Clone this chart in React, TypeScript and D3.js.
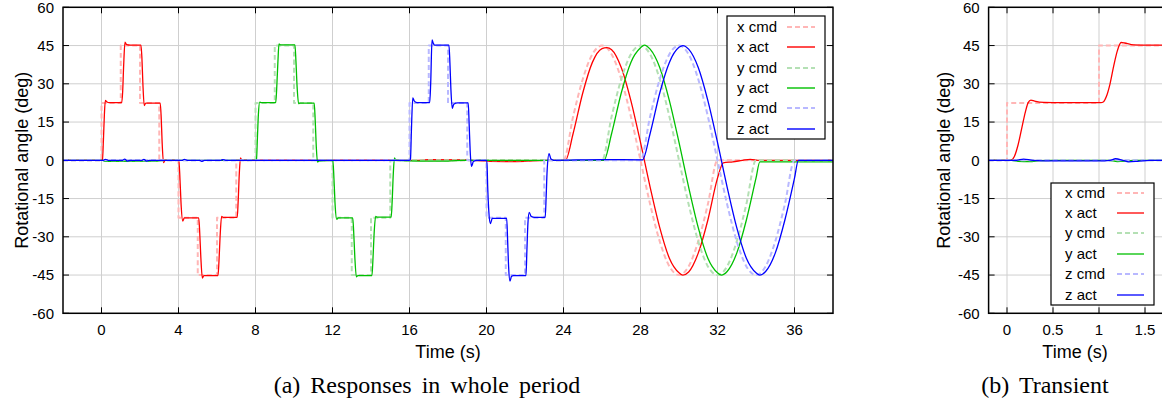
import React, { useEffect, useRef } from 'react';
import * as d3 from 'd3';

type Pt = [number, number];

// ---- data ----
const angleTicks = [-60, -45, -30, -15, 0, 15, 30, 45, 60];
const wholeTimeTicks = [0, 4, 8, 12, 16, 20, 24, 28, 32, 36];
const transientTimeTicks = [0, 0.5, 1, 1.5];
const seriesNames = ['x cmd', 'x act', 'y cmd', 'y act', 'z cmd', 'z act'];

const wholeXCmd: Pt[] = [[-2, 0], [0, 0], [0, 22.5], [1, 22.5], [1, 45], [2, 45], [2, 22.5], [3, 22.5], [3, 0], [4, 0], [4, -22.5], [5, -22.5], [5, -45], [6, -45], [6, -22.5], [7, -22.5], [7, 0], [24, 0], [24.5, 17.2], [25, 31.8], [25.5, 41.6], [26, 45], [26.5, 41.6], [27, 31.8], [27.5, 17.2], [28, 0], [28.5, -17.2], [29, -31.8], [29.5, -41.6], [30, -45], [30.5, -41.6], [31, -31.8], [31.5, -17.2], [32, 0], [38, 0]];
const wholeXAct: Pt[] = [[-2, 0], [0, 0], [0.05, 0.2], [0.1, 8], [0.15, 18], [0.2, 23.5], [0.27, 23], [0.4, 22.6], [1.05, 22.6], [1.1, 27], [1.15, 37], [1.22, 46.3], [1.3, 45.4], [1.5, 45.2], [2.05, 45.2], [2.1, 40], [2.15, 30], [2.22, 21.5], [2.3, 22.4], [3.05, 22.4], [3.1, 17], [3.15, 7], [3.22, -0.9], [3.3, 0], [4.02, 0], [4.08, -8], [4.14, -18], [4.22, -23.8], [4.3, -22.6], [5.05, -22.6], [5.1, -28], [5.16, -38], [5.24, -46.2], [5.32, -45.2], [6.05, -45.2], [6.1, -40], [6.16, -30], [6.24, -22], [6.32, -22.4], [7.05, -22.4], [7.1, -16], [7.16, -5], [7.22, 0.9], [7.3, 0], [16.5, 0], [17, 0.3], [19, 0.2], [19.3, 0], [21, -0.5], [22, -0.4], [23, 0], [24.1, 0], [24.5, 10.5], [25, 26.4], [25.5, 38.4], [26, 43.8], [26.25, 44.2], [26.5, 43.4], [27, 36.4], [27.5, 23.4], [28, 7], [28.5, -10.5], [29, -26.4], [29.5, -38.4], [30, -44.1], [30.2, -45], [30.5, -43.8], [31, -36.4], [31.5, -23.4], [32, -7], [32.3, -1], [32.8, -0.6], [33.3, 0], [33.7, 0.4], [34.2, 0], [38, 0]];
const wholeYCmd: Pt[] = [[-2, 0], [8, 0], [8, 22.5], [9, 22.5], [9, 45], [10, 45], [10, 22.5], [11, 22.5], [11, 0], [12, 0], [12, -22.5], [13, -22.5], [13, -45], [14, -45], [14, -22.5], [15, -22.5], [15, 0], [26, 0], [26.5, 17.2], [27, 31.8], [27.5, 41.6], [28, 45], [28.5, 41.6], [29, 31.8], [29.5, 17.2], [30, 0], [30.5, -17.2], [31, -31.8], [31.5, -41.6], [32, -45], [32.5, -41.6], [33, -31.8], [33.5, -17.2], [34, 0], [38, 0]];
const wholeYAct: Pt[] = [[-2, 0], [0.05, 0], [0.2, -0.4], [2.9, -0.3], [3.3, 0], [8, 0], [8.05, 0.3], [8.1, 9], [8.15, 18], [8.22, 22.8], [8.3, 22.6], [9.05, 22.6], [9.1, 28], [9.16, 38], [9.22, 45.6], [9.3, 45.3], [10.05, 45.3], [10.1, 39], [10.16, 29], [10.24, 22.2], [10.3, 22.4], [11.05, 22.4], [11.1, 16], [11.16, 5], [11.22, -0.7], [11.3, -0.3], [12.02, 0], [12.08, -8], [12.14, -18], [12.22, -23.2], [12.3, -22.6], [13.05, -22.6], [13.1, -28], [13.16, -38], [13.24, -45.7], [13.32, -45.2], [14.05, -45.2], [14.1, -39], [14.16, -29], [14.24, -22], [14.32, -22.3], [15.05, -22.3], [15.1, -16], [15.16, -5], [15.22, 0.9], [15.3, 0], [16.5, -0.3], [18, -0.3], [18.8, 0], [26.1, 0], [26.5, 10.5], [27, 26.4], [27.5, 38.4], [28, 44.1], [28.2, 45.2], [28.5, 43.6], [29, 36.4], [29.5, 23.4], [30, 7], [30.5, -10.5], [31, -26.4], [31.5, -38.4], [32, -44.1], [32.2, -45], [32.5, -43.6], [33, -36.4], [33.5, -23.4], [34, -7], [34.2, -0.6], [38, -0.6]];
const wholeZCmd: Pt[] = [[-2, 0], [16, 0], [16, 22.5], [17, 22.5], [17, 45], [18, 45], [18, 22.5], [19, 22.5], [19, 0], [20, 0], [20, -22.5], [21, -22.5], [21, -45], [22, -45], [22, -22.5], [23, -22.5], [23, 0], [28, 0], [28.5, 17.2], [29, 31.8], [29.5, 41.6], [30, 45], [30.5, 41.6], [31, 31.8], [31.5, 17.2], [32, 0], [32.5, -17.2], [33, -31.8], [33.5, -41.6], [34, -45], [34.5, -41.6], [35, -31.8], [35.5, -17.2], [36, 0], [38, 0]];
const wholeZAct: Pt[] = [[-2, 0], [0.1, 0], [0.2, 0.4], [0.35, 0], [1.1, 0], [1.2, 0.5], [1.35, -0.3], [1.5, 0], [2.1, 0], [2.2, 0.4], [2.35, -0.3], [2.5, 0], [4.2, 0], [4.3, 0.4], [4.45, 0], [5.1, 0], [5.2, -0.4], [5.35, 0], [6.2, 0], [6.3, 0.3], [6.45, 0], [16, 0], [16.05, 0.5], [16.1, 12], [16.17, 24.5], [16.25, 23.2], [16.4, 22.6], [17.05, 22.6], [17.1, 30], [17.17, 47.2], [17.24, 45.8], [17.3, 45.2], [18.05, 45.2], [18.1, 38], [18.15, 28], [18.22, 20.4], [18.3, 22], [18.5, 22.5], [19.05, 22.5], [19.1, 14], [19.15, 4], [19.22, -2.4], [19.32, -0.5], [19.5, 0], [20.02, 0], [20.06, -10], [20.12, -20], [20.2, -24.8], [20.3, -22.8], [21.05, -22.8], [21.1, -32], [21.15, -42], [21.22, -47.4], [21.3, -45.5], [21.4, -45.2], [22.05, -45.2], [22.1, -35], [22.15, -25], [22.22, -20.4], [22.32, -22], [22.5, -22.4], [23.05, -22.4], [23.1, -14], [23.15, -4], [23.25, 2.6], [23.35, 0.5], [23.5, 0], [26, 0.3], [28.1, 0.2], [28.5, 10.5], [29, 26.4], [29.5, 38.4], [30, 44.3], [30.2, 45], [30.5, 43.6], [31, 36.4], [31.5, 23.4], [32, 7], [32.5, -10.5], [33, -26.4], [33.5, -38.4], [34, -44.1], [34.2, -45], [34.5, -43.6], [35, -36.4], [35.5, -23.4], [36, -7], [36.2, 0], [38, 0]];

const transXCmd: Pt[] = [[-0.2, 0], [0, 0], [0, 22.5], [1, 22.5], [1, 45], [2.2, 45]];
const transXAct: Pt[] = [[-0.2, 0], [0.04, 0], [0.08, 1.5], [0.12, 6], [0.16, 12.5], [0.2, 19], [0.23, 22.6], [0.26, 23.6], [0.3, 23.2], [0.4, 22.7], [0.6, 22.6], [1.02, 22.6], [1.05, 23], [1.08, 25], [1.12, 30], [1.16, 37], [1.2, 43], [1.24, 46.2], [1.28, 46], [1.35, 45.4], [1.5, 45.2], [2.2, 45]];
const transYCmd: Pt[] = [[-0.2, 0], [2.2, 0]];
const transYAct: Pt[] = [[-0.2, 0], [0.05, 0], [0.12, -0.4], [0.25, -0.5], [0.35, -0.1], [0.5, 0], [1.1, 0], [1.2, -0.5], [1.3, -0.3], [1.4, 0], [2.2, 0]];
const transZCmd: Pt[] = [[-0.2, 0], [2.2, 0]];
const transZAct: Pt[] = [[-0.2, 0], [0.1, 0], [0.18, 0.5], [0.28, 0], [0.5, -0.2], [1.0, -0.2], [1.12, 0], [1.18, 0.6], [1.26, 0], [1.32, -0.6], [1.42, -0.4], [1.55, 0], [2.2, 0]];

const colors = ['#ffb6b6', '#ff0000', '#b4e0b4', '#00c000', '#b8b8ff', '#0000ff'];
const dashed = [true, false, true, false, true, false];

type PanelCfg = {
  id: string;
  left: number; right: number; top: number; bottom: number;
  xDomain: [number, number];
  xTicks: number[];
  series: Pt[][];
  legend: { x: number; y: number; w: number; h: number; textX: number; lineX0: number; lineX1: number; rows: number[]; lineW: number; lineOp: number };
  yLabelX: number;
  xLabelX: number;
  caption: string;
  captionX: number;
};

function drawPanel(svg: d3.Selection<SVGSVGElement, unknown, null, undefined>, c: PanelCfg) {
  const x = d3.scaleLinear().domain(c.xDomain).range([c.left, c.right]);
  const y = d3.scaleLinear().domain([-60, 60]).range([c.bottom, c.top]);
  const g = svg.append('g');
  const font = '"Liberation Sans", Arial, Helvetica, sans-serif';

  g.append('clipPath').attr('id', c.id).append('rect')
    .attr('x', c.left).attr('y', c.top).attr('width', c.right - c.left).attr('height', c.bottom - c.top);

  // grid
  g.selectAll('.gx').data(c.xTicks).enter().append('line')
    .attr('x1', d => x(d)).attr('x2', d => x(d)).attr('y1', c.top).attr('y2', c.bottom)
    .attr('stroke', '#cfcfcf').attr('stroke-width', 1);
  g.selectAll('.gy').data(angleTicks).enter().append('line')
    .attr('x1', c.left).attr('x2', c.right).attr('y1', d => y(d)).attr('y2', d => y(d))
    .attr('stroke', '#cfcfcf').attr('stroke-width', 1);

  // ticks (mirrored, inward)
  const tl = 6;
  c.xTicks.forEach(t => {
    g.append('line').attr('x1', x(t)).attr('x2', x(t)).attr('y1', c.bottom).attr('y2', c.bottom - tl).attr('stroke', '#000');
    g.append('line').attr('x1', x(t)).attr('x2', x(t)).attr('y1', c.top).attr('y2', c.top + tl).attr('stroke', '#000');
  });
  angleTicks.forEach(t => {
    g.append('line').attr('x1', c.left).attr('x2', c.left + tl).attr('y1', y(t)).attr('y2', y(t)).attr('stroke', '#000');
    g.append('line').attr('x1', c.right).attr('x2', c.right - tl).attr('y1', y(t)).attr('y2', y(t)).attr('stroke', '#000');
  });

  // data
  const line = d3.line<Pt>().x(d => x(d[0])).y(d => y(d[1])).curve(d3.curveMonotoneX);
  const dg = g.append('g').attr('clip-path', `url(#${c.id})`);
  c.series.forEach((s, i) => {
    dg.append('path').attr('d', line(s) || '')
      .attr('fill', 'none')
      .attr('stroke', colors[i])
      .attr('stroke-width', dashed[i] ? 2 : 1.3)
      .attr('stroke-dasharray', dashed[i] ? '5,3' : null)
      .attr('stroke-linejoin', 'round');
  });

  // frame
  g.append('rect').attr('x', c.left).attr('y', c.top).attr('width', c.right - c.left).attr('height', c.bottom - c.top)
    .attr('fill', 'none').attr('stroke', '#000').attr('stroke-width', 1.5);

  // tick labels
  g.selectAll('.yl').data(angleTicks).enter().append('text')
    .attr('x', c.left - 9).attr('y', d => y(d)).attr('dy', '0.35em')
    .attr('text-anchor', 'end').attr('font-family', font).attr('font-size', 15).attr('fill', '#000')
    .text(d => String(d));
  g.selectAll('.xl').data(c.xTicks).enter().append('text')
    .attr('x', d => x(d)).attr('y', 335)
    .attr('text-anchor', 'middle').attr('font-family', font).attr('font-size', 15).attr('fill', '#000')
    .text(d => String(d));

  // axis titles
  g.append('text').attr('x', c.xLabelX).attr('y', 358).attr('text-anchor', 'middle')
    .attr('font-family', font).attr('font-size', 18).text('Time (s)');
  g.append('text').attr('transform', `translate(${c.yLabelX},${(c.top + c.bottom) / 2}) rotate(-90)`)
    .attr('text-anchor', 'middle').attr('font-family', font).attr('font-size', 18).text('Rotational angle (deg)');

  // legend
  const L = c.legend;
  g.append('rect').attr('x', L.x).attr('y', L.y).attr('width', L.w).attr('height', L.h)
    .attr('fill', '#fff').attr('stroke', '#000').attr('stroke-width', 1.2);
  seriesNames.forEach((name, i) => {
    g.append('text').attr('x', L.textX).attr('y', L.rows[i]).attr('dy', '0.35em')
      .attr('font-family', font).attr('font-size', 15).text(name);
    g.append('line').attr('x1', L.lineX0).attr('x2', L.lineX1).attr('y1', L.rows[i]).attr('y2', L.rows[i])
      .attr('stroke', colors[i]).attr('stroke-width', dashed[i] ? 2 : L.lineW)
      .attr('stroke-opacity', dashed[i] ? 1 : L.lineOp)
      .attr('stroke-dasharray', dashed[i] ? '5,3' : null);
  });

  // caption
  svg.append('text').attr('x', c.captionX).attr('y', 393).attr('text-anchor', 'middle')
    .attr('font-family', '"Liberation Serif", "Times New Roman", serif').attr('font-size', 24)
    .attr('word-spacing', 4).text(c.caption);
}

const App = () => {
  const ref = useRef<SVGSVGElement>(null);
  useEffect(() => {
    const svg = d3.select(ref.current as SVGSVGElement);
    svg.selectAll('*').remove();
    svg.append('rect').attr('width', 1162).attr('height', 404).attr('fill', '#fff');

    drawPanel(svg, {
      id: 'clipA', left: 63, right: 833, top: 7.3, bottom: 313.3,
      xDomain: [-2, 38], xTicks: wholeTimeTicks,
      series: [wholeXCmd, wholeXAct, wholeYCmd, wholeYAct, wholeZCmd, wholeZAct],
      legend: { x: 727, y: 16, w: 98, h: 123, textX: 737, lineX0: 787, lineX1: 815, rows: [27, 47, 68, 88, 108, 129], lineW: 2, lineOp: 0.7 },
      yLabelX: 28, xLabelX: 448,
      caption: '(a) Responses in whole period', captionX: 427,
    });
    drawPanel(svg, {
      id: 'clipB', left: 988.6, right: 1191, top: 7.3, bottom: 313.3,
      xDomain: [-0.2, 2], xTicks: transientTimeTicks,
      series: [transXCmd, transXAct, transYCmd, transYAct, transZCmd, transZAct],
      legend: { x: 1051, y: 183, w: 103, h: 122, textX: 1065, lineX0: 1117, lineX1: 1144, rows: [193, 213, 233, 254, 274, 295], lineW: 1.3, lineOp: 1 },
      yLabelX: 950, xLabelX: 1075,
      caption: '(b) Transient', captionX: 1045,
    });
  }, []);

  return (
    <div style={{ position: 'absolute', left: 0, top: 0, width: 1162, height: 404, overflow: 'hidden' }}>
      <svg ref={ref} width={1162} height={404} style={{ display: 'block' }} />
    </div>
  );
};

export default App;
